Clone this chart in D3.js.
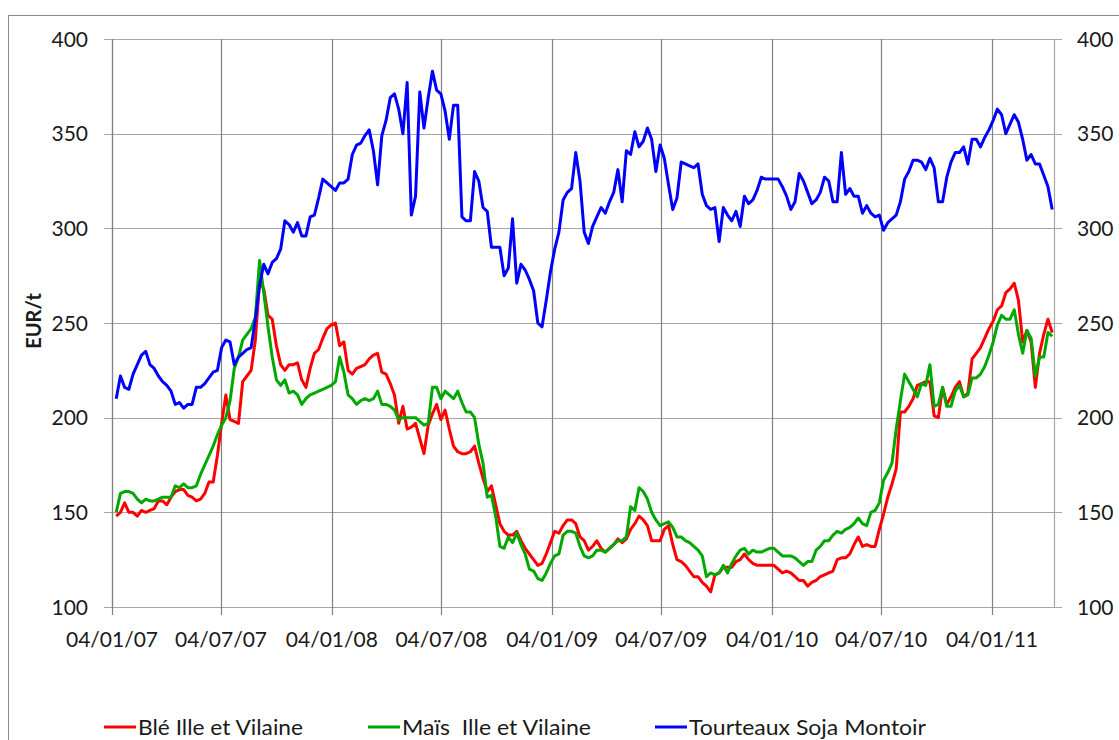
<!DOCTYPE html>
<html>
<head>
<meta charset="utf-8">
<script src="https://cdn.jsdelivr.net/npm/d3@7"></script>
<style>
  html, body { margin: 0; padding: 0; background: #fff; }
  svg { display: block; font-family: Lato, "Open Sans", sans-serif; }
</style>
</head>
<body>
<svg id="chart" width="1119" height="740"></svg>
<script>
// Weekly prices, EUR per tonne, first quotation on 11 January 2007
const firstWeek = "2007-01-11";

const ble = [
  148,150,155,150,150,148,151,150,151,152,156,156,154,158,161,162,162,159,158,156,
  157,160,166,166,180,197,212,199,198,197,219,222,225,241,272,268,254,252,238,228,
  225,228,228,229,220,216,226,234,236,242,247,249,250,238,240,225,223,226,227,228,
  231,233,234,224,223,218,212,197,206,194,195,197,189,181,196,202,207,199,204,194,
  185,182,181,181,182,185,176,168,161,164,154,144,140,138,138,140,135,131,128,125,
  122,123,128,134,140,139,143,146,146,144,137,135,130,132,135,131,129,131,133,136,
  134,136,141,144,148,146,143,135,135,135,141,143,133,125,124,122,119,116,116,113,
  111,108,117,118,121,121,121,124,125,128,125,123,122,122,122,122,122,120,118,119,
  118,116,114,114,111,113,114,116,117,118,119,125,126,126,128,133,137,132,133,132,
  132,141,149,158,165,173,203,203,206,210,217,218,219,219,201,200,216,207,211,216,
  219,211,213,231,234,237,242,247,251,257,259,266,268,271,262,240,246,240,216,234,
  244,252,245
];

const mais = [
  150,160,161,161,160,157,155,157,156,156,157,158,158,158,164,163,165,163,163,164,
  170,175,180,185,191,196,200,209,226,232,241,244,247,253,283,266,248,232,220,217,
  220,213,214,212,207,210,212,213,214,215,216,217,219,232,224,212,210,207,209,210,
  209,210,214,207,207,206,204,199,200,200,200,200,198,196,197,216,216,210,214,212,
  210,214,208,203,203,200,186,176,158,159,148,132,131,137,134,139,133,128,120,119,
  115,114,118,123,127,128,138,140,140,139,132,127,126,127,130,130,129,131,133,135,
  135,137,153,151,163,161,157,150,146,143,144,145,142,137,137,135,134,132,130,127,
  116,118,117,118,122,118,123,127,130,131,128,130,129,129,130,131,131,129,127,127,
  127,126,124,122,124,124,130,132,135,135,138,140,139,141,142,144,147,144,143,150,
  151,155,167,171,176,194,209,223,219,215,211,218,217,228,206,207,216,206,206,214,
  217,211,212,221,221,223,227,233,240,249,254,252,252,257,244,234,246,242,222,232,
  232,245,243
];

const soja = [
  210,222,216,215,223,228,233,235,228,226,222,219,217,214,207,208,205,207,207,216,
  216,218,221,224,225,237,241,240,228,232,234,236,237,252,270,281,276,282,284,289,
  304,302,298,303,296,296,306,307,316,326,324,322,320,324,324,326,339,344,345,349,
  352,341,323,349,357,369,371,363,350,377,307,317,372,353,369,383,373,371,362,347,
  365,365,306,304,304,330,325,311,309,290,290,290,275,279,305,271,281,278,273,267,
  250,248,262,277,289,298,315,319,321,340,325,298,292,301,306,311,308,314,319,331,
  314,341,339,351,343,346,353,347,330,344,337,323,310,316,335,334,333,332,334,318,
  312,310,311,293,311,307,304,309,301,317,313,315,320,327,326,326,326,326,322,317,
  310,314,329,325,319,313,315,319,327,325,314,314,340,318,321,317,317,308,312,308,
  306,307,299,303,305,307,314,326,330,336,336,335,331,337,332,314,314,327,335,340,
  340,343,334,347,347,343,348,352,357,363,360,350,355,360,356,347,336,339,334,334,
  328,322,310
];

const seriesNames = ["Blé Ille et Vilaine", "Maïs  Ille et Vilaine", "Tourteaux Soja Montoir"];
const seriesColors = ["#ff0000", "#00a800", "#0000ff"];
const yTicks = [100, 150, 200, 250, 300, 350, 400];
const xTickDates = ["2007-01-04", "2007-07-04", "2008-01-04", "2008-07-04", "2009-01-04",
                    "2009-07-04", "2010-01-04", "2010-07-04", "2011-01-04"];
const axisStart = "2007-01-04";
const axisEnd = "2011-04-17";
const yTitle = "EUR/t";

const parse = d3.timeParse("%Y-%m-%d");
const fmt = d3.timeFormat("%d/%m/%y");

const svg = d3.select("#chart");

// outer chart frame
svg.append("rect")
  .attr("x", 8.5).attr("y", 15.5)
  .attr("width", 1200).attr("height", 800)
  .attr("fill", "none").attr("stroke", "#8c8c8c").attr("stroke-width", 1);

const plotL = 112, plotR = 1054, plotT = 39, plotB = 607;

const x = d3.scaleTime()
  .domain([parse(axisStart), parse(axisEnd)])
  .range([plotL, plotR]);
const y = d3.scaleLinear().domain([100, 400]).range([plotB, plotT]);

const start = parse(firstWeek);
const weekDates = ble.map((_, i) => d3.timeDay.offset(start, 7 * i));

// horizontal gridlines (with outward ticks on both sides)
svg.append("g")
  .selectAll("line")
  .data(yTicks)
  .join("line")
  .attr("x1", plotL - 8).attr("x2", plotR + 8)
  .attr("y1", d => Math.round(y(d)) + 0.5).attr("y2", d => Math.round(y(d)) + 0.5)
  .attr("stroke", "#a6a6a6").attr("stroke-width", 1);

// vertical gridlines at the dated ticks, extending below the axis as tick marks
const tickDates = xTickDates.map(parse);
svg.append("g")
  .selectAll("line")
  .data(tickDates)
  .join("line")
  .attr("x1", d => Math.round(x(d)) + 0.5).attr("x2", d => Math.round(x(d)) + 0.5)
  .attr("y1", plotT).attr("y2", plotB + 8)
  .attr("stroke", "#808080").attr("stroke-width", 1.2);

// right-hand axis line
svg.append("line")
  .attr("x1", plotR + 0.5).attr("x2", plotR + 0.5)
  .attr("y1", plotT).attr("y2", plotB)
  .attr("stroke", "#a6a6a6").attr("stroke-width", 1.2);

// left axis line
svg.append("line")
  .attr("x1", plotL + 0.5).attr("x2", plotL + 0.5)
  .attr("y1", plotT).attr("y2", plotB)
  .attr("stroke", "#808080").attr("stroke-width", 1.2);

// y labels, left and right
const yl = svg.append("g").attr("font-size", 21).attr("fill", "#1a1a1a");
yl.selectAll("text.l").data(yTicks).join("text").attr("class", "l")
  .attr("x", 88).attr("y", d => y(d)).attr("dy", "0.36em")
  .attr("text-anchor", "end").text(d => d);
yl.selectAll("text.r").data(yTicks).join("text").attr("class", "r")
  .attr("x", 1077).attr("y", d => y(d)).attr("dy", "0.36em")
  .attr("text-anchor", "start").text(d => d);

// x labels
svg.append("g").attr("font-size", 21).attr("fill", "#1a1a1a")
  .selectAll("text").data(tickDates).join("text")
  .attr("x", d => x(d)).attr("y", 647)
  .attr("text-anchor", "middle").text(d => fmt(d));

// y axis title
svg.append("text")
  .attr("transform", "translate(41,321) rotate(-90)")
  .attr("text-anchor", "middle")
  .attr("font-size", 20).attr("font-weight", "bold").attr("fill", "#1a1a1a")
  .text(yTitle);

// price lines
const line = d3.line()
  .x((d, i) => x(weekDates[i]))
  .y(d => y(d));

const allSeries = [ble, mais, soja];
svg.append("g")
  .selectAll("path")
  .data(allSeries)
  .join("path")
  .attr("d", d => line(d))
  .attr("fill", "none")
  .attr("stroke", (d, i) => seriesColors[i])
  .attr("stroke-width", 3)
  .attr("stroke-linejoin", "round");

// legend
const legendX = [104, 368, 655];
const legendW = [165, 189, 237];
const lg = svg.append("g");
seriesNames.forEach((name, i) => {
  lg.append("line")
    .attr("x1", legendX[i]).attr("x2", legendX[i] + 32)
    .attr("y1", 727).attr("y2", 727)
    .attr("stroke", seriesColors[i]).attr("stroke-width", 3);
  lg.append("text")
    .attr("x", legendX[i] + 34).attr("y", 727).attr("dy", "0.36em")
    .attr("font-size", 21).attr("fill", "#1a1a1a")
    .attr("xml:space", "preserve")
    .attr("textLength", legendW[i]).attr("lengthAdjust", "spacingAndGlyphs")
    .text(name);
});
</script>
</body>
</html>
